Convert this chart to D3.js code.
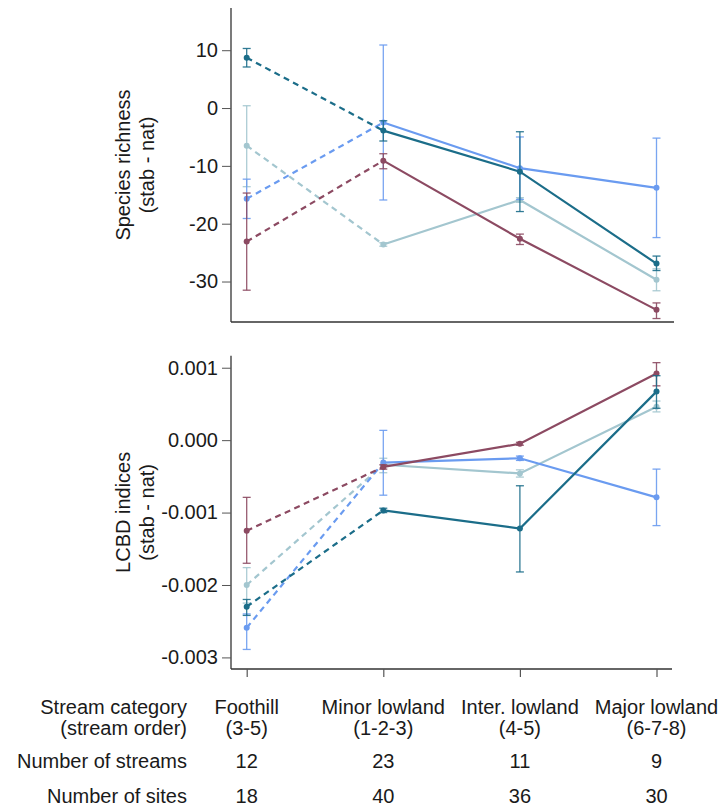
<!DOCTYPE html>
<html>
<head>
<meta charset="utf-8">
<script src="https://cdn.jsdelivr.net/npm/d3@7/dist/d3.min.js"></script>
<style>
  html, body { margin: 0; padding: 0; background: #fff; }
  svg { display: block; }
  text { font-family: "Liberation Sans", Arial, sans-serif; fill: #1a1a1a; }
</style>
</head>
<body>
<svg id="chart" width="720" height="807"></svg>
<script>
// Stream categories and the counts printed under each column
const categories = ["Foothill", "Minor lowland", "Inter. lowland", "Major lowland"];
const streamOrders = ["(3-5)", "(1-2-3)", "(4-5)", "(6-7-8)"];
const nStreams = [12, 23, 11, 9];
const nSites = [18, 40, 36, 30];

// Tick values for the two panels
const richTicks = [10, 0, -10, -20, -30];
const lcbdTicks = [0.001, 0.000, -0.001, -0.002, -0.003];

// Species richness differences (stab - nat): mean, lower and upper bounds
const richPale   = [-6.5, -23.6, -15.9, -29.7];
const richPaleLo = [-13.6, -23.9, -16.3, -31.6];
const richPaleHi = [0.4, -23.3, -15.5, -27.8];

const richBlue   = [-15.7, -2.5, -10.4, -13.8];
const richBlueLo = [-19.1, -15.9, -15.8, -22.4];
const richBlueHi = [-12.3, 10.9, -5.0, -5.2];

const richMaroon   = [-23.1, -9.1, -22.6, -34.9];
const richMaroonLo = [-31.5, -10.5, -23.6, -36.4];
const richMaroonHi = [-14.7, -7.9, -21.8, -33.7];

const richTeal   = [8.7, -3.9, -11.0, -26.9];
const richTealLo = [7.1, -5.7, -17.9, -28.1];
const richTealHi = [10.3, -2.2, -4.1, -25.6];

// LCBD index differences (stab - nat): mean, lower and upper bounds
const lcbdPale   = [-0.00200, -0.00034, -0.00046, 0.00046];
const lcbdPaleLo = [-0.00225, -0.00045, -0.00051, 0.00039];
const lcbdPaleHi = [-0.00176, -0.00025, -0.00041, 0.00054];

const lcbdBlue   = [-0.00259, -0.00031, -0.00025, -0.00079];
const lcbdBlueLo = [-0.00289, -0.00076, -0.00028, -0.00118];
const lcbdBlueHi = [-0.00240, 0.000135, -0.00022, -0.00040];

const lcbdMaroon   = [-0.00125, -0.00037, -0.00005, 0.00092];
const lcbdMaroonLo = [-0.00170, -0.00040, -0.00007, 0.00075];
const lcbdMaroonHi = [-0.00079, -0.00034, -0.00003, 0.00107];

const lcbdTeal   = [-0.00230, -0.00097, -0.00122, 0.00067];
const lcbdTealLo = [-0.00242, -0.00100, -0.00182, 0.00044];
const lcbdTealHi = [-0.00220, -0.00094, -0.00063, 0.00089];

const colors = { pale: "#a3c6cf", blue: "#6a9bf0", maroon: "#8c4a62", teal: "#1b6d89" };

const richSeries = [
  { color: colors.pale,   mean: richPale,   lo: richPaleLo,   hi: richPaleHi },
  { color: colors.blue,   mean: richBlue,   lo: richBlueLo,   hi: richBlueHi },
  { color: colors.maroon, mean: richMaroon, lo: richMaroonLo, hi: richMaroonHi },
  { color: colors.teal,   mean: richTeal,   lo: richTealLo,   hi: richTealHi }
];
const lcbdSeries = [
  { color: colors.pale,   mean: lcbdPale,   lo: lcbdPaleLo,   hi: lcbdPaleHi },
  { color: colors.blue,   mean: lcbdBlue,   lo: lcbdBlueLo,   hi: lcbdBlueHi },
  { color: colors.maroon, mean: lcbdMaroon, lo: lcbdMaroonLo, hi: lcbdMaroonHi },
  { color: colors.teal,   mean: lcbdTeal,   lo: lcbdTealLo,   hi: lcbdTealHi }
];

const svg = d3.select("#chart");
const FONT = 20;

// tick formats using a plain hyphen for negative numbers
const hyphen = (f) => (d) => f(d).replace("\u2212", "-");

const x = d3.scalePoint().domain(categories).range([246.7, 656.5]);
const axisLeft = 231;

function drawPanel(cfg) {
  const y = d3.scaleLinear().domain(cfg.domain).range([cfg.bottom, cfg.top]);
  const g = svg.append("g");

  // y axis
  const ya = g.append("g")
    .attr("transform", `translate(${axisLeft},0)`)
    .call(d3.axisLeft(y).tickValues(cfg.ticks).tickSize(9).tickPadding(4)
      .tickFormat(cfg.format).tickSizeOuter(0));
  ya.select(".domain").attr("stroke", "#333").attr("stroke-width", 1.3)
    .attr("d", `M0,${cfg.top}V${cfg.bottom}`);
  ya.selectAll(".tick line").attr("stroke", "#555").attr("stroke-width", 1);
  ya.selectAll(".tick text").attr("font-size", FONT)
    .attr("font-family", "Liberation Sans, Arial, sans-serif").attr("fill", "#1a1a1a");

  // x axis
  const xa = g.append("g")
    .attr("transform", `translate(0,${cfg.bottom})`)
    .call(d3.axisBottom(x).tickSize(cfg.xTicks ? 8 : 0).tickFormat(""));
  xa.select(".domain").attr("stroke", "#333").attr("stroke-width", 1.3)
    .attr("d", `M${axisLeft},0H${cfg.right}`);
  xa.selectAll(".tick line").attr("stroke", "#555").attr("stroke-width", 1.2);

  // y title
  const title = g.append("text")
    .attr("transform", `translate(123,${(cfg.top + cfg.bottom) / 2}) rotate(-90)`)
    .attr("text-anchor", "middle").attr("font-size", FONT);
  title.append("tspan").attr("x", 0).attr("dy", "0.35em").text(cfg.title);
  title.append("tspan").attr("x", 0).attr("dy", 24).text("(stab - nat)");

  const seg = d3.line().x((d) => x(categories[d.i])).y((d) => y(d.v));

  cfg.series.forEach((s) => {
    const pts = s.mean.map((v, i) => ({ i, v }));
    const sg = g.append("g");
    // error bars
    s.mean.forEach((v, i) => {
      const cx = x(categories[i]);
      const eb = sg.append("g").attr("stroke", s.color).attr("stroke-width", 1.3)
        .attr("stroke-opacity", 0.9);
      eb.append("line").attr("x1", cx).attr("x2", cx).attr("y1", y(s.lo[i])).attr("y2", y(s.hi[i]));
      eb.append("line").attr("x1", cx - 4).attr("x2", cx + 4).attr("y1", y(s.lo[i])).attr("y2", y(s.lo[i]));
      eb.append("line").attr("x1", cx - 4).attr("x2", cx + 4).attr("y1", y(s.hi[i])).attr("y2", y(s.hi[i]));
    });
    // dashed first segment, solid for the rest
    sg.append("path").datum(pts.slice(0, 2)).attr("d", seg)
      .attr("fill", "none").attr("stroke", s.color).attr("stroke-width", 2.2)
      .attr("stroke-dasharray", "6,4.5");
    sg.append("path").datum(pts.slice(1)).attr("d", seg)
      .attr("fill", "none").attr("stroke", s.color).attr("stroke-width", 2.2);
    // points
    sg.selectAll("circle").data(pts).join("circle")
      .attr("cx", (d) => x(categories[d.i])).attr("cy", (d) => y(d.v))
      .attr("r", 3).attr("fill", s.color);
  });
}

drawPanel({
  top: 8, bottom: 322, right: 674, domain: [-37, 17.3],
  ticks: richTicks, format: hyphen(d3.format("d")), title: "Species richness",
  series: richSeries, xTicks: false
});

drawPanel({
  top: 355.7, bottom: 669, right: 672, domain: [-0.00316, 0.001166],
  ticks: lcbdTicks, format: hyphen(d3.format(".3f")), title: "LCBD indices",
  series: lcbdSeries, xTicks: true
});

// Table of stream categories below the panels
const table = svg.append("g").attr("font-size", FONT);
const rowLabelX = 187;
[["Stream category", 714], ["(stream order)", 735], ["Number of streams", 768], ["Number of sites", 803]]
  .forEach(([t, yy]) => {
    table.append("text").attr("x", rowLabelX).attr("y", yy)
      .attr("text-anchor", "end").attr("font-size", FONT).text(t);
  });

categories.forEach((c, i) => {
  const cx = x(c);
  table.append("text").attr("x", cx).attr("y", 714).attr("text-anchor", "middle").attr("font-size", FONT).text(c);
  table.append("text").attr("x", cx).attr("y", 735).attr("text-anchor", "middle").attr("font-size", FONT).text(streamOrders[i]);
  table.append("text").attr("x", cx).attr("y", 768).attr("text-anchor", "middle").attr("font-size", FONT).text(nStreams[i]);
  table.append("text").attr("x", cx).attr("y", 803).attr("text-anchor", "middle").attr("font-size", FONT).text(nSites[i]);
});
</script>
</body>
</html>
